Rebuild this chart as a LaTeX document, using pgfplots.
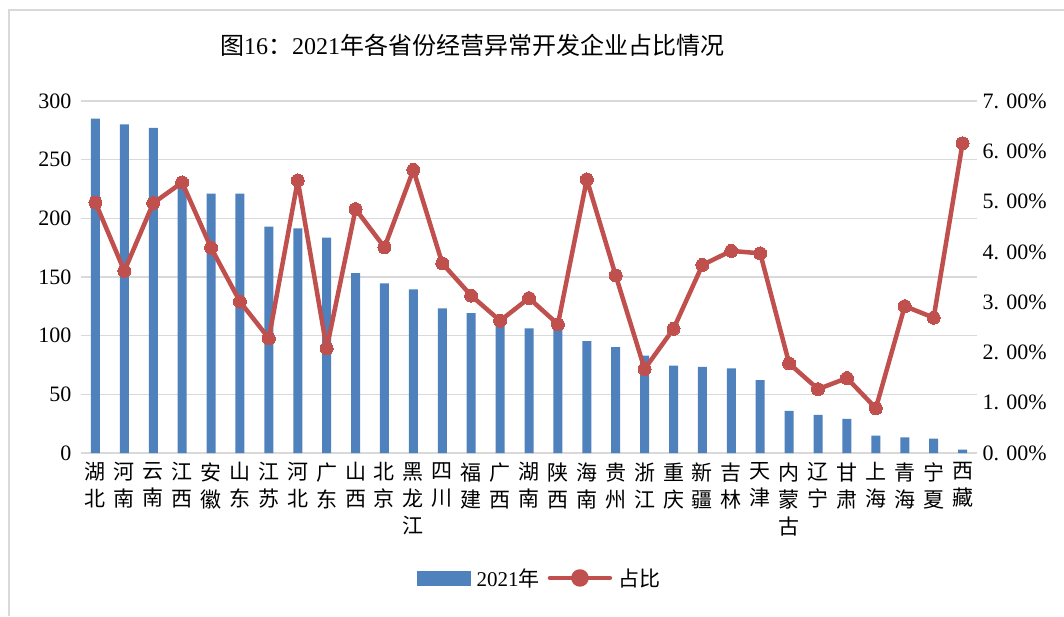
\documentclass[border=0pt]{standalone}
\usepackage{fontspec}
\usepackage{pgfplots}
\pgfplotsset{compat=1.18}
\setmainfont{Liberation Serif}
\newfontfamily\cjk{Noto Sans CJK SC}
\definecolor{barblue}{HTML}{4F81BD}
\definecolor{linered}{HTML}{C0504D}
\definecolor{gridgray}{HTML}{D9D9D9}
\begin{document}
\begin{tikzpicture}[x=1pt,y=1pt]
\path[use as bounding box] (-81,-163) rectangle (983,453);
\draw[gridgray,line width=1.2pt] (-72,-163) -- (-72,443) -- (983,443);
\node[font=\fontsize{24}{28}\selectfont] at (391,408) {{\cjk 图}16{\cjk ：}2021{\cjk 年各省份经营异常开发企业占比情况}};
\begin{axis}[
  at={(0,0)}, anchor=south west,
  scale only axis, width=896pt, height=352pt,
  xmin=-0.5, xmax=30.5, ymin=0, ymax=300,
  ytick={0,50,...,300},
  xtick={0,...,30},
  xticklabels={湖\\北,河\\南,云\\南,江\\西,安\\徽,山\\东,江\\苏,河\\北,广\\东,山\\西,北\\京,黑\\龙\\江,四\\川,福\\建,广\\西,湖\\南,陕\\西,海\\南,贵\\州,浙\\江,重\\庆,新\\疆,吉\\林,天\\津,内\\蒙\\古,辽\\宁,甘\\肃,上\\海,青\\海,宁\\夏,西\\藏},
  xticklabel style={align=center, font=\cjk\fontsize{21}{27}\selectfont, anchor=north, yshift=-6pt},
  yticklabel style={font=\fontsize{22}{26}\selectfont, xshift=-6pt},
  /pgf/number format/assume math mode=true,
  axis line style={draw=none},
  major tick length=0pt,
  ymajorgrids, grid style={gridgray, line width=1.3pt},
  ybar, bar width=9pt,
]
\addplot[fill=barblue, draw=none] coordinates {
(0,285) (1,280) (2,277) (3,228) (4,221) (5,221) (6,193) (7,191.5) (8,183.5) (9,153.4)
(10,144.6) (11,139.5) (12,123.3) (13,119.3) (14,115) (15,106.2) (16,110) (17,95.4) (18,90.3) (19,83)
(20,74.5) (21,73.3) (22,72.2) (23,62.2) (24,36) (25,32.4) (26,29) (27,14.8) (28,13.4) (29,12.2) (30,2.8)};
\end{axis}
\begin{axis}[
  at={(0,0)}, anchor=south west,
  scale only axis, width=896pt, height=352pt,
  xmin=-0.5, xmax=30.5, ymin=0, ymax=7,
  axis y line*=right, axis x line=none,
  ytick={0,...,7},
  yticklabels={0. 00\%,1. 00\%,2. 00\%,3. 00\%,4. 00\%,5. 00\%,6. 00\%,7. 00\%},
  yticklabel style={font=\fontsize{22}{26}\selectfont, xshift=2pt},
  axis line style={draw=none},
  major tick length=0pt,
  legend style={at={(0.512,-0.355)}, anchor=center, draw=none, fill=none, legend columns=2,
    font=\fontsize{21}{25}\selectfont, column sep=4pt, /tikz/every even column/.append style={column sep=6pt}},
]
\addlegendimage{legend image code/.code={\fill[barblue] (0pt,-7pt) rectangle (53pt,7pt);}}
\addlegendentry{2021{\cjk 年}}
\addplot[linered, line width=4.5pt, line join=round, line cap=round, mark=*, mark size=6.5pt, mark options={fill=linered, draw=linered, line width=0pt},
  legend image code/.code={\draw[linered, line width=4.5pt] (0pt,0pt) -- (60pt,0pt); \fill[linered] (30pt,0pt) circle (6.5pt);}]
coordinates {
(0,4.98) (1,3.62) (2,4.97) (3,5.38) (4,4.08) (5,3.01) (6,2.28) (7,5.42) (8,2.08) (9,4.85)
(10,4.09) (11,5.63) (12,3.77) (13,3.13) (14,2.63) (15,3.08) (16,2.56) (17,5.44) (18,3.53) (19,1.67)
(20,2.47) (21,3.74) (22,4.02) (23,3.97) (24,1.78) (25,1.27) (26,1.49) (27,0.89) (28,2.92) (29,2.69) (30,6.16)};
\addlegendentry{\cjk 占比}
\end{axis}
\end{tikzpicture}
\end{document}
